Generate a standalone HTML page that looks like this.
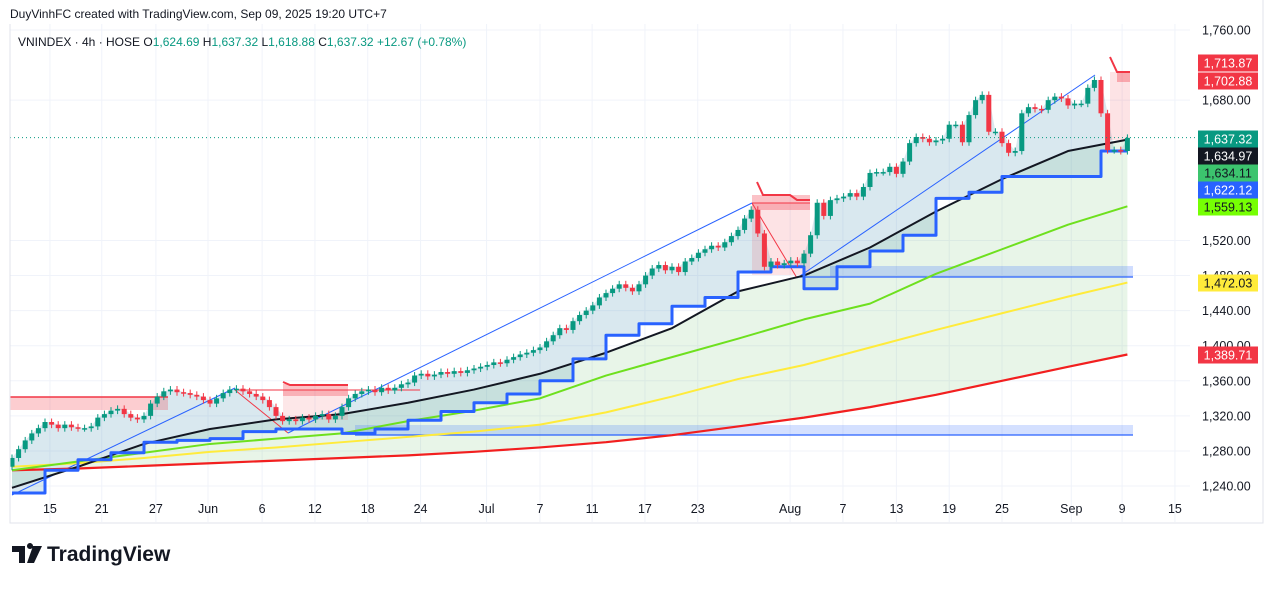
<!DOCTYPE html>
<html><head><meta charset="utf-8"><style>
html,body{margin:0;padding:0;background:#fff;}
body{width:1273px;height:584px;overflow:hidden;font-family:"Liberation Sans",sans-serif;}
svg text{font-family:"Liberation Sans",sans-serif;}
</style></head><body>
<svg id="chart" width="1273" height="584" viewBox="0 0 1273 584" xmlns="http://www.w3.org/2000/svg">
<text x="10" y="18" font-size="12" fill="#131722">DuyVinhFC created with TradingView.com, Sep 09, 2025 19:20 UTC+7</text>
<g id="grid"></g>
<g id="fills"></g>
<g id="drawings"></g>
<g id="mas"></g>
<g id="candles"></g>
<g id="axis"></g>
<text x="18" y="46" font-size="12" fill="#131722">VNINDEX · 4h · HOSE  <tspan>O</tspan><tspan fill="#089981">1,624.69</tspan>  H<tspan fill="#089981">1,637.32</tspan>  L<tspan fill="#089981">1,618.88</tspan>  C<tspan fill="#089981">1,637.32</tspan>  <tspan fill="#089981">+12.67 (+0.78%)</tspan></text>
<g>
<path d="M12 546h13v17h-6v-11h-7z M27 546a3 3 0 1 1 0 .1z M33 546h9l-8 17h-7z" fill="#131722"/>
<text x="47" y="561" font-size="21" font-weight="bold" fill="#131722">TradingView</text>
</g>
</svg>
<script>
const closes=[1272,1282,1292,1300,1306,1313,1310,1306,1310,1307,
1306,1306,1308,1318,1322,1326,1328,1322,1318,1316,
1320,1334,1342,1348,1350,1347,1346,1344,1342,1338,
1334,1340,1346,1350,1351,1348,1345,1342,1338,1330,
1320,1314,1316,1314,1318,1316,1320,1322,1316,1320,
1330,1340,1345,1348,1350,1347,1352,1349,1352,1356,
1358,1366,1368,1365,1367,1370,1368,1371,1369,1372,
1374,1376,1378,1381,1380,1384,1387,1390,1392,1395,
1398,1405,1412,1420,1418,1428,1435,1440,1446,1455,
1460,1465,1470,1466,1462,1470,1480,1488,1492,1486,
1490,1484,1496,1500,1506,1510,1514,1512,1518,1525,
1532,1545,1555,1528,1490,1496,1492,1494,1497,1494,
1505,1526,1563,1548,1566,1568,1570,1574,1570,1581,
1597,1598,1598,1604,1596,1610,1631,1638,1636,1632,
1634,1636,1652,1652,1632,1663,1680,1686,1644,1644,
1631,1620,1622,1665,1672,1670,1669,1680,1684,1682,
1674,1676,1676,1694,1703,1665,1623,1623,1622,1637];
const firstOpen=1262;
const maIdx=[0,10,20,30,40,50,60,70,80,90,100,110,120,130,140,150,160,169];
const ma20=[1238,1262,1288,1305,1316,1322,1335,1350,1368,1392,1420,1462,1480,1512,1553,1590,1622,1635];
const ma50=[1258,1268,1278,1288,1294,1300,1314,1326,1340,1366,1387,1408,1430,1448,1482,1510,1538,1559];
const ma100=[1262,1266,1272,1279,1284,1290,1296,1302,1310,1324,1342,1362,1378,1398,1418,1437,1456,1472];
const ma200=[1258,1260,1263,1266,1269,1272,1275,1279,1284,1290,1298,1308,1318,1330,1344,1360,1376,1390];
const trailIdx=[0,5,10,15,20,25,30,35,40,45,50,55,60,65,70,75,80,85,90,95,100,105,110,115,120,125,130,135,140,145,150,155,160,165,169];
const trail=[1232,1258,1270,1278,1290,1292,1294,1302,1305,1305,1300,1305,1315,1325,1335,1345,1360,1385,1412,1425,1445,1455,1484,1490,1465,1490,1508,1526,1568,1575,1593,1593,1593,1622,1622];
const priceTicks=[1760,1680,1520,1480,1440,1400,1360,1320,1280,1240];
const timeLabels=["15","21","27","Jun","6","12","18","24","Jul","7","11","17","23","Aug","7","13","19","25","Sep","9","15"];
const timeBars=[5.75,13.6,21.8,29.7,37.9,45.9,53.9,61.9,71.9,80,87.9,95.9,103.9,117.9,125.9,134,142,150,160.5,168.2,176.2];
const tagVals=[1713.87,1702.88,1637.32,1634.97,1634.11,1622.12,1559.13,1472.03,1389.71];
const tagColors=["#f23645","#f23645","#089981","#131722","#3cc46e","#2962ff","#76ff03","#ffeb3b","#f23645"];
const tagText=["#fff","#fff","#fff","#fff","#131722","#fff","#131722","#131722","#fff"];

const NS="http://www.w3.org/2000/svg";
const X=i=>12+i*6.6;
const Y=p=>30+(1760-p)*0.877;
function mk(parent,tag,attrs){const e=document.createElementNS(NS,tag);for(const k in attrs)e.setAttribute(k,attrs[k]);parent.appendChild(e);return e;}
const grid=document.getElementById('grid'),fills=document.getElementById('fills'),dr=document.getElementById('drawings'),mas=document.getElementById('mas'),cg=document.getElementById('candles'),ax=document.getElementById('axis');

priceTicks.forEach(p=>{const l=mk(grid,'line',{x1:10,x2:1190,y1:Y(p),y2:Y(p),stroke:'#f0f3fa'});

});
timeBars.forEach(b=>{const l=mk(grid,'line',{x1:X(b),x2:X(b),y1:24,y2:522,stroke:'#f0f3fa'});

});

const pts=(arr)=>arr.map((v,k)=>X(maIdx[k])+','+Y(v));
// stepped trail points
const trailPts=[];
trail.forEach((v,k)=>{const x0=X(trailIdx[k]);const x1=k<trail.length-1?X(trailIdx[k+1]):x0;trailPts.push(x0+','+Y(v));if(x1!==x0)trailPts.push(x1+','+Y(v));});

{const p=pts(ma20).concat(pts(ma200).reverse());const e=mk(fills,'polygon',{points:p.join(' '),fill:'rgba(76,175,80,0.13)'});

}
{const top=closes.map((c,i)=>X(i)+','+Y(Math.max(c,i?closes[i-1]:firstOpen)));
const bot=trailPts.slice().reverse();
const e=mk(fills,'polygon',{points:top.concat(bot).join(' '),fill:'rgba(80,150,180,0.22)'});

}

function rect(x,y,w,h,f,name){const e=mk(dr,'rect',{x,y,width:w,height:h,fill:f});}
function pl(points,s,w,name){const e=mk(dr,'polyline',{points,fill:'none',stroke:s,'stroke-width':w});}
rect(10,397,158,13,'rgba(242,54,69,0.25)','resistance-zone-may');
pl('10,397 168,397','#f23645',1.5,'resistance-line-may');
rect(283,390,65,30,'rgba(242,54,69,0.12)','pattern-box-jun');
rect(283,384,65,12,'rgba(242,54,69,0.3)','pattern-top-jun');
pl('283,382 290,385 348,385','#f23645',2,'pattern-cap-jun');
pl('235,390 288,433','#f23645',1,'drop-line-jun');
pl('235,390 420,390','#f23645',1,'top-line-jun');
rect(752,203,58,72,'rgba(242,54,69,0.14)','pattern-box-aug');
rect(752,195,58,15,'rgba(242,54,69,0.3)','pattern-top-aug');
pl('757,182 763,195 790,195 797,200 810,200','#f23645',2,'pattern-cap-aug');
pl('752,203 797,278','#f23645',1,'drop-line-aug');
pl('752,203 810,203','#f23645',1,'top-line-aug');
rect(1110,72,20,68,'rgba(242,54,69,0.14)','pattern-box-sep');
rect(1117,72,13,10,'rgba(242,54,69,0.35)','pattern-top-sep');
pl('1110,57 1117,72 1130,72','#f23645',2,'pattern-cap-sep');
rect(830,266,303,11,'rgba(41,98,255,0.22)','support-zone-aug');
pl('797,277 1133,277','#2962ff',1.2,'support-line-aug');
rect(355,425,778,10,'rgba(41,98,255,0.2)','support-zone-jun');
pl('355,435 1133,435','#2962ff',1.2,'support-line-jun');
pl('12,495 235,388','#2962ff',1,'trendline-may');
pl('288,433 752,203','#2962ff',1,'trendline-jun-jul');
pl('797,278 1095,75','#2962ff',1,'trendline-aug-sep');

function maLine(points,col,w,name){const e=mk(mas,'polyline',{points:points.join(' '),fill:'none',stroke:col,'stroke-width':w,'stroke-linejoin':'round'});

}
maLine(pts(ma200),'#f21f1f',2.2,'ma200-line');
maLine(pts(ma100),'#ffeb3b',2,'ma100-line');
maLine(pts(ma50),'#6ee01e',2,'ma50-line');
maLine(pts(ma20),'#131722',2,'ma20-line');
maLine(trailPts,'#2962ff',3,'trailing-stop-line');

closes.forEach((c,i)=>{const o=i?closes[i-1]:firstOpen;const up=c>=o;const col=up?'#089981':'#f23645';
const hi=Math.max(o,c)+4,lo=Math.min(o,c)-4;const x=X(i);
const w=mk(cg,'line',{x1:x,x2:x,y1:Y(hi),y2:Y(lo),stroke:col,'stroke-width':1});


const b=mk(cg,'rect',{x:x-2.5,y:Y(Math.max(o,c)),width:5,height:Math.max(1.5,Y(Math.min(o,c))-Y(Math.max(o,c))),fill:col});

});

{const e=mk(ax,'line',{x1:10,x2:1195,y1:Y(1637.32),y2:Y(1637.32),stroke:'#089981','stroke-dasharray':'1 3'});

}
{const e=mk(ax,'polyline',{points:'10,24 10,523 1263,523 1263,0',fill:'none',stroke:'#e0e3eb'});

}
priceTicks.forEach(p=>{const t=mk(ax,'text',{x:1202,y:Y(p)+4.5,'font-size':12.5,fill:'#131722'});t.textContent=p.toLocaleString('en-US',{minimumFractionDigits:2});

});
timeLabels.forEach((s,k)=>{const t=mk(ax,'text',{x:X(timeBars[k]),y:513,'font-size':12.5,fill:'#131722','text-anchor':'middle'});t.textContent=s;

});
const tagY=[63,81,139,156,173,190,207,283,355];
tagVals.forEach((v,k)=>{const g=mk(ax,'g',{});


mk(g,'rect',{x:1198,y:tagY[k]-8.5,width:60,height:17,fill:tagColors[k]});
const t=mk(g,'text',{x:1228,y:tagY[k]+4.5,'font-size':12.5,fill:tagText[k],'text-anchor':'middle'});
t.textContent=v.toLocaleString('en-US',{minimumFractionDigits:2});});
</script>
</body></html>
